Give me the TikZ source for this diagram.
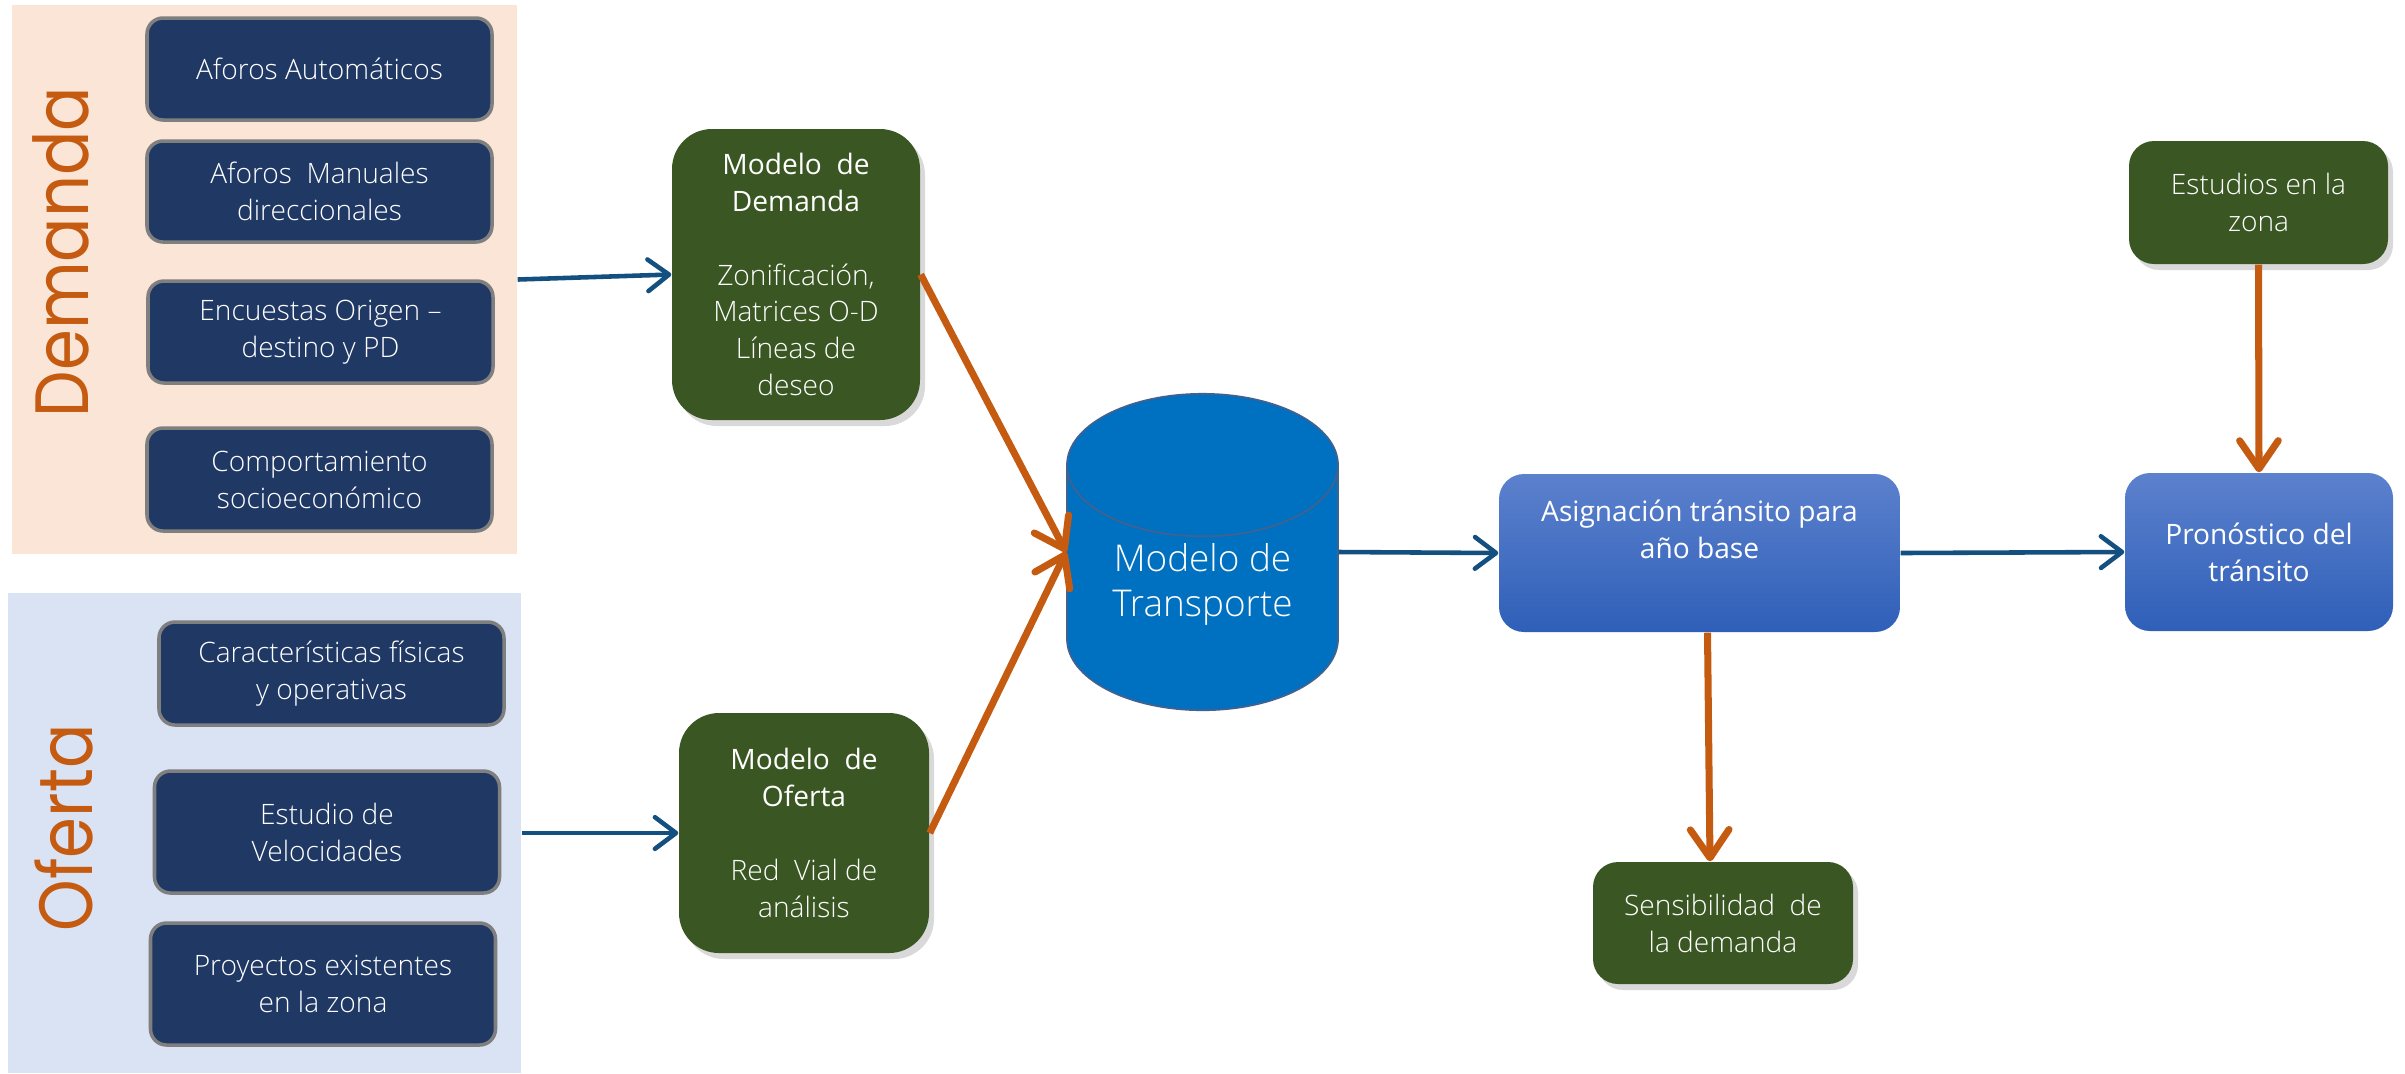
\documentclass[tikz,border=0pt]{standalone}
\usepackage{fontspec}
\IfFontExistsTF{Open Sans Light}{\setmainfont{Open Sans Light}}{\setmainfont{Open Sans}}
\newfontfamily\regfont{Open Sans}
\newfontfamily\labelfont{Poppins}[FakeStretch=0.87]
\usetikzlibrary{arrows.meta,shapes.geometric,shadows}

\definecolor{navy}{HTML}{203864}
\definecolor{bordergray}{HTML}{7F7F7F}
\definecolor{leaf}{HTML}{3A5723}
\definecolor{rust}{HTML}{C55A11}
\definecolor{ink}{HTML}{134F7F}
\definecolor{peach}{HTML}{FBE5D6}
\definecolor{sky}{HTML}{DAE3F3}
\definecolor{drum}{HTML}{0070C0}
\definecolor{drumline}{HTML}{41618F}
\definecolor{bluetop}{HTML}{5C81CD}
\definecolor{bluebot}{HTML}{2F5FB8}

\begin{document}
\begin{tikzpicture}[
  every node/.style={font=\fontsize{8}{10.5}\selectfont, text=white, align=center},
  inbox/.style={rectangle, rounded corners=0.16cm, fill=navy, draw=bordergray, line width=1pt, minimum width=3.45cm},
  greenbox/.style={rectangle, rounded corners=0.3cm, fill=leaf, drop shadow={opacity=0.3, shadow xshift=0.05cm, shadow yshift=-0.06cm}},
  bluebox/.style={rectangle, rounded corners=0.25cm, top color=bluetop, bottom color=bluebot, minimum height=1.58cm,
    font=\regfont\fontsize{8}{10.5}\selectfont},
  bluearrow/.style={draw=ink, line width=1.3pt, -{Straight Barb[length=6pt, width=9pt, round]}},
  orangearrow/.style={draw=rust, line width=2pt, -{Straight Barb[length=8pt, width=11pt, round]}}
]
\useasboundingbox (0,0) rectangle (24.05,-10.73);

% fondos
\node[rectangle, inner sep=0pt, fill=peach, minimum width=5.05cm, minimum height=5.49cm] (dem) at (2.645,-2.795) {};
\node[rectangle, inner sep=0pt, fill=sky, minimum width=5.13cm, minimum height=4.80cm] (ofe) at (2.645,-8.33) {};
\node[rotate=90, text=rust, font=\labelfont\fontsize{21.5}{22}\selectfont] (demlab) at (0.61,-2.52) {Demanda};
\node[rotate=90, text=rust, font=\labelfont\fontsize{21.5}{22}\selectfont] (ofelab) at (0.635,-8.28) {Oferta};

% entradas
\node[inbox, minimum height=1.02cm] (aut) at (3.195,-0.69) {Aforos Automáticos};
\node[inbox, minimum height=1.01cm] (man) at (3.195,-1.915) {Aforos\ \ Manuales\\direccionales};
\node[inbox, minimum height=1.02cm] (enc) at (3.205,-3.32) {Encuestas Origen –\\destino y PD};
\node[inbox, minimum height=1.03cm] (soc) at (3.195,-4.795) {Comportamiento\\socioeconómico};
\node[inbox, minimum height=1.03cm] (fis) at (3.315,-6.735) {Características físicas\\y operativas};
\node[inbox, minimum height=1.22cm] (vel) at (3.27,-8.32) {Estudio de\\Velocidades};
\node[inbox, minimum height=1.22cm] (pro) at (3.23,-9.84) {Proyectos existentes\\en la zona};

% modelos
\node[greenbox, rounded corners=0.4cm, minimum width=2.48cm, minimum height=2.91cm] (mdem) at (7.96,-2.745)
  {{\regfont Modelo\ \ de}\\{\regfont Demanda}\\[10.5pt]Zonificación,\\Matrices O-D\\Líneas de\\deseo};
\node[greenbox, rounded corners=0.4cm, minimum width=2.50cm, minimum height=2.40cm] (mofe) at (8.04,-8.33)
  {{\regfont Modelo\ \ de}\\{\regfont Oferta}\\[10.5pt]Red\ \ Vial de\\análisis};
\node[cylinder, shape border rotate=90, aspect=0.7, anchor=shape center, fill=drum, draw=drumline, line width=0.5pt,
  inner ysep=1.8pt, minimum width=2.71cm, minimum height=3.10cm, font=\fontsize{10.5}{12.8}\selectfont] (trans) at (12.025,-5.52)
  {Modelo de\\Transporte\\[0pt]};

% salidas
\node[bluebox, minimum width=4.01cm] (asig) at (16.995,-5.53) {Asignación tránsito para\\año base\\\strut};
\node[bluebox, minimum width=2.68cm] (pron) at (22.59,-5.52) {Pronóstico del\\tránsito};
\node[greenbox, rounded corners=0.25cm, minimum width=2.59cm, minimum height=1.23cm] (estu) at (22.585,-2.025) {Estudios en la\\zona};
\node[greenbox, rounded corners=0.25cm, minimum width=2.60cm, minimum height=1.22cm] (sens) at (17.23,-9.23) {Sensibilidad\ \ de\\la demanda};

% flechas
\draw[bluearrow] (dem.east) -- (mdem.west);
\draw[bluearrow] (ofe.east) -- (mofe.west);
\draw[orangearrow] (mdem.east) -- (trans.shape center -| trans.west);
\draw[orangearrow] (mofe.east) -- (trans.shape center -| trans.west);
\draw[bluearrow] (trans.shape center -| trans.east) -- (asig.west);
\draw[bluearrow] (asig.east) -- (pron.west);
\draw[orangearrow] (estu.south) -- (pron.north);
\draw[orangearrow] ([xshift=0.08cm]asig.south) -- ([xshift=-0.13cm]sens.north);
\end{tikzpicture}
\end{document}
